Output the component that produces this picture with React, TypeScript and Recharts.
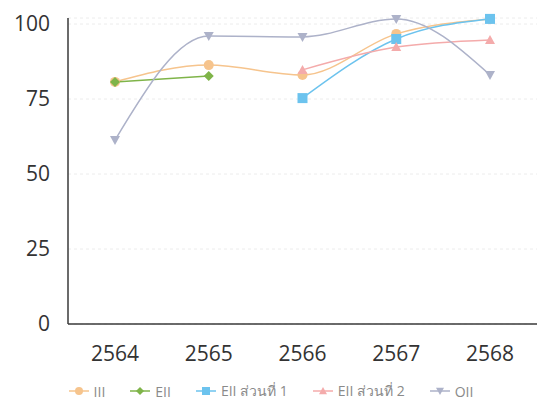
import React from 'react';
import { LineChart, Line, XAxis, YAxis, CartesianGrid, Legend } from 'recharts';

const years = ['2564', '2565', '2566', '2567', '2568'];
const iii = [80.7, 86.3, 83, 96.7, 101.7];
const eii = [80.7, 82.7, null, null, null];
const eiiPart1 = [null, null, 75.3, 95, 101.7];
const eiiPart2 = [null, null, 84.7, 92.3, 94.7];
const oii = [61.3, 96, 95.7, 101.7, 83];
const yTicks = [0, 25, 50, 75, 100];

const data = years.map((year, i) => ({
  year,
  III: iii[i],
  EII: eii[i],
  'EII ส่วนที่ 1': eiiPart1[i],
  'EII ส่วนที่ 2': eiiPart2[i],
  OII: oii[i],
}));

const series = [
  { key: 'III', color: '#f6c48d', shape: 'circle' },
  { key: 'EII', color: '#7fb449', shape: 'diamond' },
  { key: 'EII ส่วนที่ 1', color: '#6cc3ee', shape: 'square' },
  { key: 'EII ส่วนที่ 2', color: '#f4abab', shape: 'triangle' },
  { key: 'OII', color: '#adb2c9', shape: 'down' },
];

const Marker = ({ cx, cy, color, shape, r = 5 }: any) => {
  if (cx == null || cy == null) return null;
  if (shape === 'circle') return <circle cx={cx} cy={cy} r={r} fill={color} />;
  if (shape === 'square') return <rect x={cx - r} y={cy - r} width={r * 2} height={r * 2} fill={color} />;
  if (shape === 'diamond')
    return <path d={`M${cx},${cy - r} L${cx + r},${cy} L${cx},${cy + r} L${cx - r},${cy} Z`} fill={color} />;
  if (shape === 'triangle')
    return <path d={`M${cx},${cy - r} L${cx + r},${cy + r * 0.8} L${cx - r},${cy + r * 0.8} Z`} fill={color} />;
  return <path d={`M${cx - r},${cy - r * 0.8} L${cx + r},${cy - r * 0.8} L${cx},${cy + r} Z`} fill={color} />;
};

const LegendContent = () => (
  <div style={{ display: 'flex', justifyContent: 'center', gap: 24, fontSize: 14, color: '#8a8a8a', paddingLeft: 4 }}>
    {series.map((s) => (
      <span key={s.key} style={{ display: 'flex', alignItems: 'center' }}>
        <svg width={22} height={12} style={{ marginRight: 4 }}>
          <line x1={1} y1={6} x2={21} y2={6} stroke={s.color} strokeWidth={1.5} />
          <Marker cx={11} cy={6} color={s.color} shape={s.shape} r={4} />
        </svg>
        {s.key}
      </span>
    ))}
  </div>
);

const App: React.FC = () => {
  return (
    <div style={{ position: 'absolute', left: 0, top: 0, fontFamily: '"Open Sans", "Noto Sans", sans-serif' }}>
      <LineChart width={537} height={416} data={data} margin={{ top: 18, right: 0, left: 0, bottom: 14 }}>
        <CartesianGrid vertical={false} stroke="#ececec" strokeDasharray="3 3" />
        <XAxis
          dataKey="year"
          padding={{ left: 47, right: 47 }}
          axisLine={{ stroke: '#3a3a3a', strokeWidth: 1.5 }}
          tickLine={false}
          tickSize={0}
          tickMargin={22}
          height={56}
          tick={{ fill: '#333', fontSize: 21 }}
        />
        <YAxis
          domain={[0, 102]}
          ticks={yTicks}
          axisLine={{ stroke: '#3a3a3a', strokeWidth: 1.5 }}
          tickLine={false}
          tickSize={0}
          tickMargin={18}
          width={68}
          tick={{ fill: '#333', fontSize: 21 }}
        />
        <Legend content={<LegendContent />} verticalAlign="bottom" />
        {series.map((s) => (
          <Line
            key={s.key}
            type="monotone"
            dataKey={s.key}
            stroke={s.color}
            strokeWidth={1.5}
            dot={(p: any) => <Marker key={`${s.key}-${p.index}`} cx={p.cx} cy={p.cy} color={s.color} shape={s.shape} />}
            activeDot={false}
            isAnimationActive={false}
          />
        ))}
      </LineChart>
    </div>
  );
};

export default App;
